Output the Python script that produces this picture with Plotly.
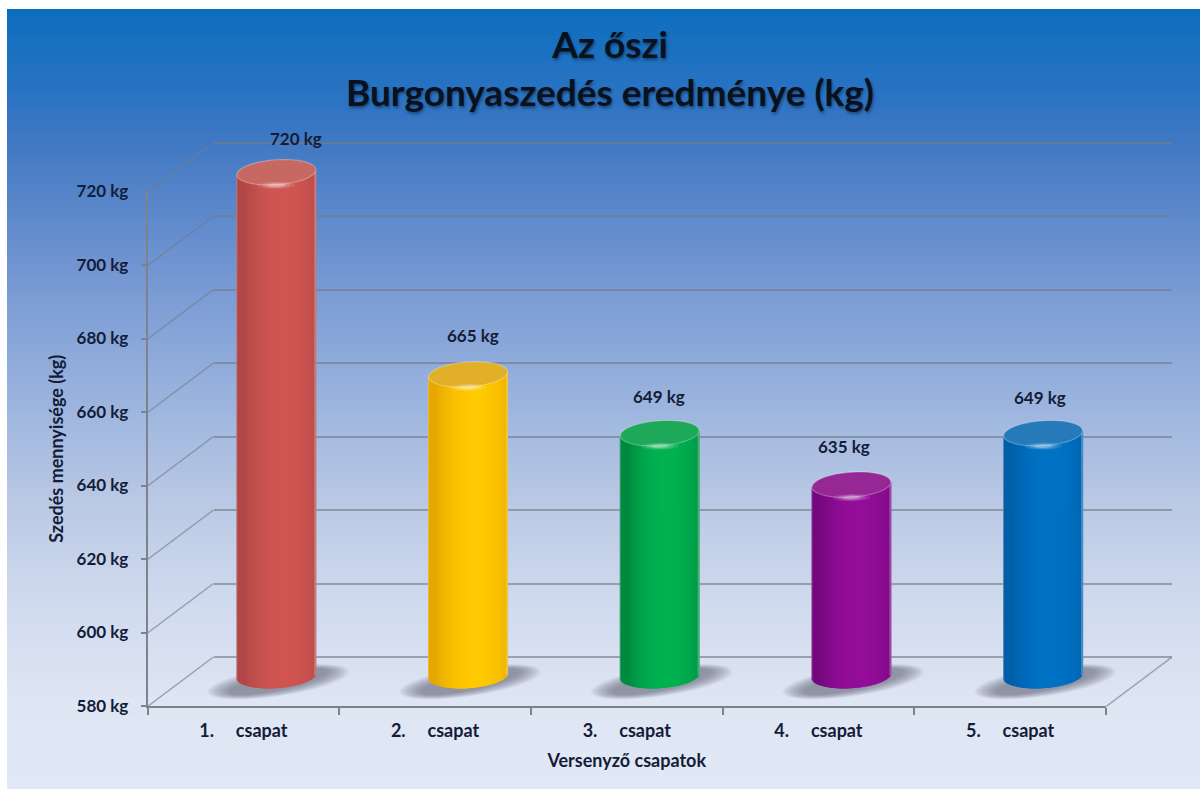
import math
import plotly.graph_objects as go

# ---------- data ----------
categories = ["1.\u00a0\u00a0\u00a0\u00a0\u00a0csapat", "2.\u00a0\u00a0\u00a0\u00a0\u00a0csapat", "3.\u00a0\u00a0\u00a0\u00a0\u00a0csapat",
              "4.\u00a0\u00a0\u00a0\u00a0\u00a0csapat", "5.\u00a0\u00a0\u00a0\u00a0\u00a0csapat"]
values = [720, 665, 649, 635, 649]
value_labels = ["720 kg", "665 kg", "649 kg", "635 kg", "649 kg"]
y_ticks = [580, 600, 620, 640, 660, 680, 700, 720]
y_tick_labels = ["580 kg", "600 kg", "620 kg", "640 kg", "660 kg", "680 kg", "700 kg", "720 kg"]
title_lines = ["Az őszi", "Burgonyaszedés eredménye (kg)"]
x_title = "Versenyző csapatok"
y_title = "Szedés mennyisége (kg)"

# ---------- style ----------
W, H = 1200, 789
INK = "#141c38"
FONT = "Lato"
dark = [(176, 72, 70), (230, 168, 0), (0, 138, 64), (116, 8, 126), (0, 94, 168)]
mid = [(208, 86, 82), (255, 201, 0), (0, 178, 80), (148, 14, 152), (0, 114, 196)]
cap = [(200, 104, 98), (226, 176, 40), (30, 168, 90), (150, 40, 150), (38, 122, 186)]
bg_stops = [(9, (13, 110, 190)), (100, (45, 115, 195)), (150, (68, 122, 195)),
            (270, (115, 150, 210)), (400, (155, 180, 222)), (500, (185, 200, 228)),
            (600, (208, 218, 238)), (700, (222, 229, 243)), (790, (225, 232, 246))]

PX_X = 191.8      # px per category
PX_Y = 3.675      # px per kg
FLOOR = 583.0     # visual base of the cylinders
R = 39.5          # cylinder half width, px
B = 12.5          # ellipse half height, px
TILT = 5.0        # rise of the right-hand side, px


def lerp(a, b, t):
    return tuple(a[i] + (b[i] - a[i]) * t for i in range(3))


def rgb(c):
    c = tuple(int(round(v)) for v in c)
    return f"rgb({c[0]},{c[1]},{c[2]})"


def ell_path(cx, cy, a, b, tilt_px):
    """Closed tilted ellipse, cx/cy in data units, a/b/tilt in px."""
    pts = []
    for k in range(48):
        th = 2 * math.pi * k / 48
        px = a * math.cos(th)
        py = b * math.sin(th) - tilt_px * math.cos(th) / 2
        pts.append((cx + px / PX_X, cy - py / PX_Y))
    return "M" + "L".join(f"{x:.4f},{y:.3f}" for x, y in pts) + "Z"


shapes = []
# background gradient: painted top-down, each band reaching the bottom so no seams show
for py in range(9, H, 2):
    for (p0, c0), (p1, c1) in zip(bg_stops, bg_stops[1:]):
        if p0 <= py < p1:
            col = lerp(c0, c1, (py - p0) / (p1 - p0))
            shapes.append(dict(type="rect", xref="paper", yref="paper", layer="below", line_width=0,
                               x0=7 / W, x1=1, y0=0, y1=1 - py / H, fillcolor=rgb(col)))
            break

GRID = "rgba(118,124,136,0.64)"
dx_back = 66 / PX_X
dy_back = 49.5 / PX_Y

# depth lines: left wall for each tick, and the right floor edge
depth_x, depth_y = [], []
for v in y_ticks:
    depth_x += [-0.5 - dx_back, -0.5, None]
    depth_y += [v - dy_back, v, None]
depth_x += [4.5 - dx_back, 4.5]
depth_y += [580 - dy_back, 580]

# cylinder bars, one thin slice per pixel column
bx, by, bbase, bwidth, bcolor = [], [], [], [], []
n = int(2 * R)
for i, v in enumerate(values):
    for k in range(n):
        u = (k + 0.5) / n * 2 - 1
        bright = max(0.0, 1 - abs(u - 0.2) ** 2.2)
        c = lerp(dark[i], mid[i], bright)
        if abs(u) > 0.965:
            c = lerp(c, (225, 225, 230), 0.3)
        lift = u * TILT / 2
        sag = B * math.sqrt(max(0, 1 - u * u))
        b0 = FLOOR + (lift - sag) / PX_Y
        t0 = v + lift / PX_Y
        bx.append(i + u * R / PX_X)
        bbase.append(b0)
        by.append(t0 - b0)
        bwidth.append(2.2 / PX_X)
        bcolor.append(rgb(c))

# contact shadows: many faint nested ellipses read as a soft edge
for i in range(len(values)):
    for s in range(14):
        f = s / 13
        shapes.append(dict(type="path", xref="x3", yref="y3", layer="below",
                           path=ell_path(i + 2 / PX_X, FLOOR - 6 / PX_Y, 71 - 22 * f, 14.5 - 6 * f, 20),
                           fillcolor="rgba(95,100,115,0.055)", line_width=0))

# caps with highlights
for i, v in enumerate(values):
    shapes.append(dict(type="path", xref="x3", yref="y3", layer="above",
                       path=ell_path(i, v, R, B, TILT), fillcolor=rgb(cap[i]),
                       line=dict(color="rgba(255,255,255,0.28)", width=1.2)))
    for a, b, op in [(19, 3.6, .10), (14, 2.8, .16), (9, 1.8, .28)]:
        shapes.append(dict(type="path", xref="x3", yref="y3", layer="above",
                           path=ell_path(i, v - (B + 0.5) / PX_Y, a, b, 0.5),
                           fillcolor=f"rgba(255,255,255,{op})", line_width=0))

# value labels
label_dx = [20, 5, -1, -7, -3]
label_dy = [34, 39, 37, 38, 36]
annotations = []
for i, v in enumerate(values):
    annotations.append(dict(x=i, y=v, xref="x3", yref="y3", text=value_labels[i], showarrow=False,
                            xshift=label_dx[i], yshift=label_dy[i], xanchor="center", yanchor="middle",
                            font=dict(family=FONT, size=17, color=INK, weight=700)))

fig = go.Figure()
# front plane: carries the axes
fig.add_trace(go.Bar(x=categories, y=[None] * 5, xaxis="x", yaxis="y", showlegend=False, hoverinfo="skip"))
# back wall: carries the gridlines
fig.add_trace(go.Scatter(x=[0], y=[600], xaxis="x2", yaxis="y2", mode="markers", marker_opacity=0,
                         showlegend=False, hoverinfo="skip"))
# middle depth: carries the cylinders
fig.add_trace(go.Bar(x=bx, y=by, base=bbase, width=bwidth, marker=dict(color=bcolor, line_width=0),
                     xaxis="x3", yaxis="y3", showlegend=False, hoverinfo="skip"))
# depth lines: back-wall scale, widened to reach the front plane
fig.add_trace(go.Scatter(x=depth_x, y=depth_y, xaxis="x4", yaxis="y4", mode="lines",
                         line=dict(color=GRID, width=1.5), showlegend=False, hoverinfo="skip"))


def dom_x(a, b):
    return [a / W, b / W]


def dom_y(bottom, top):
    return [1 - bottom / H, 1 - top / H]


AX = "rgb(125,130,140)"
tf = dict(family=FONT, size=17, color=INK, weight=700)
fig.update_layout(
    template="none",
    width=W, height=H, margin=dict(l=0, r=0, t=0, b=0), paper_bgcolor="white", plot_bgcolor="rgba(0,0,0,0)",
    barmode="overlay", showlegend=False, shapes=shapes, annotations=annotations,
    title=dict(text="<br>".join(title_lines), x=610 / W, xanchor="center", y=1 - 58 / H, yanchor="top",
               font=dict(family=FONT, size=37, color="#08121f", weight=700,
                         shadow="1px 2px 3px rgba(0,0,0,0.4)")),
    xaxis=dict(domain=dom_x(147.5, 1106), type="category", categoryorder="array",
               categoryarray=categories, tickson="boundaries", ticks="outside", ticklen=7, tickcolor=AX,
               tickwidth=1.5, linecolor=AX, linewidth=1.5, showline=True, showgrid=False, anchor="y",
               range=[-0.5, 4.5], tickfont=dict(family=FONT, size=18, color=INK, weight=700),
               ticklabelstandoff=8,
               title=dict(text=x_title, standoff=14, font=dict(family=FONT, size=18, color=INK, weight=700))),
    yaxis=dict(domain=dom_y(706, 191.5), range=[580, 720], tickvals=y_ticks, ticktext=y_tick_labels,
               ticks="outside", ticklen=5, tickcolor=AX, tickwidth=1.5, linecolor=AX, linewidth=1.5, showline=True,
               showgrid=False, zeroline=False, anchor="x", tickfont=tf, ticklabelstandoff=9,
               title=dict(text=y_title, standoff=8, font=dict(family=FONT, size=18, color=INK, weight=700))),
    xaxis2=dict(domain=dom_x(213.5, 1172), range=[-0.5, 4.5], visible=False, anchor="y2"),
    yaxis2=dict(domain=dom_y(657 + 3.675, 142.5 - 3.675), range=[579, 721], tickvals=y_ticks,
                showticklabels=False, ticks="", showgrid=True, gridcolor=GRID, gridwidth=1.5, zeroline=False,
                showline=False, anchor="x2"),
    xaxis3=dict(domain=dom_x(180.5, 1139), range=[-0.5, 4.5], visible=False, anchor="y3"),
    yaxis3=dict(domain=dom_y(686.75 + 20 * PX_Y, 172.25 - 20 * PX_Y), range=[560, 740], visible=False, anchor="x3"),
    xaxis4=dict(domain=dom_x(147.5, 1172), range=[-0.5 - dx_back, 4.5], visible=False, anchor="y4"),
    yaxis4=dict(domain=dom_y(706.5, 142.5), range=[580 - dy_back, 720], visible=False, anchor="x4"),
)

fig.write_html("out.html", config=dict(displayModeBar=False),
               post_script="document.body.style.margin='0';document.documentElement.style.overflow='hidden';")
